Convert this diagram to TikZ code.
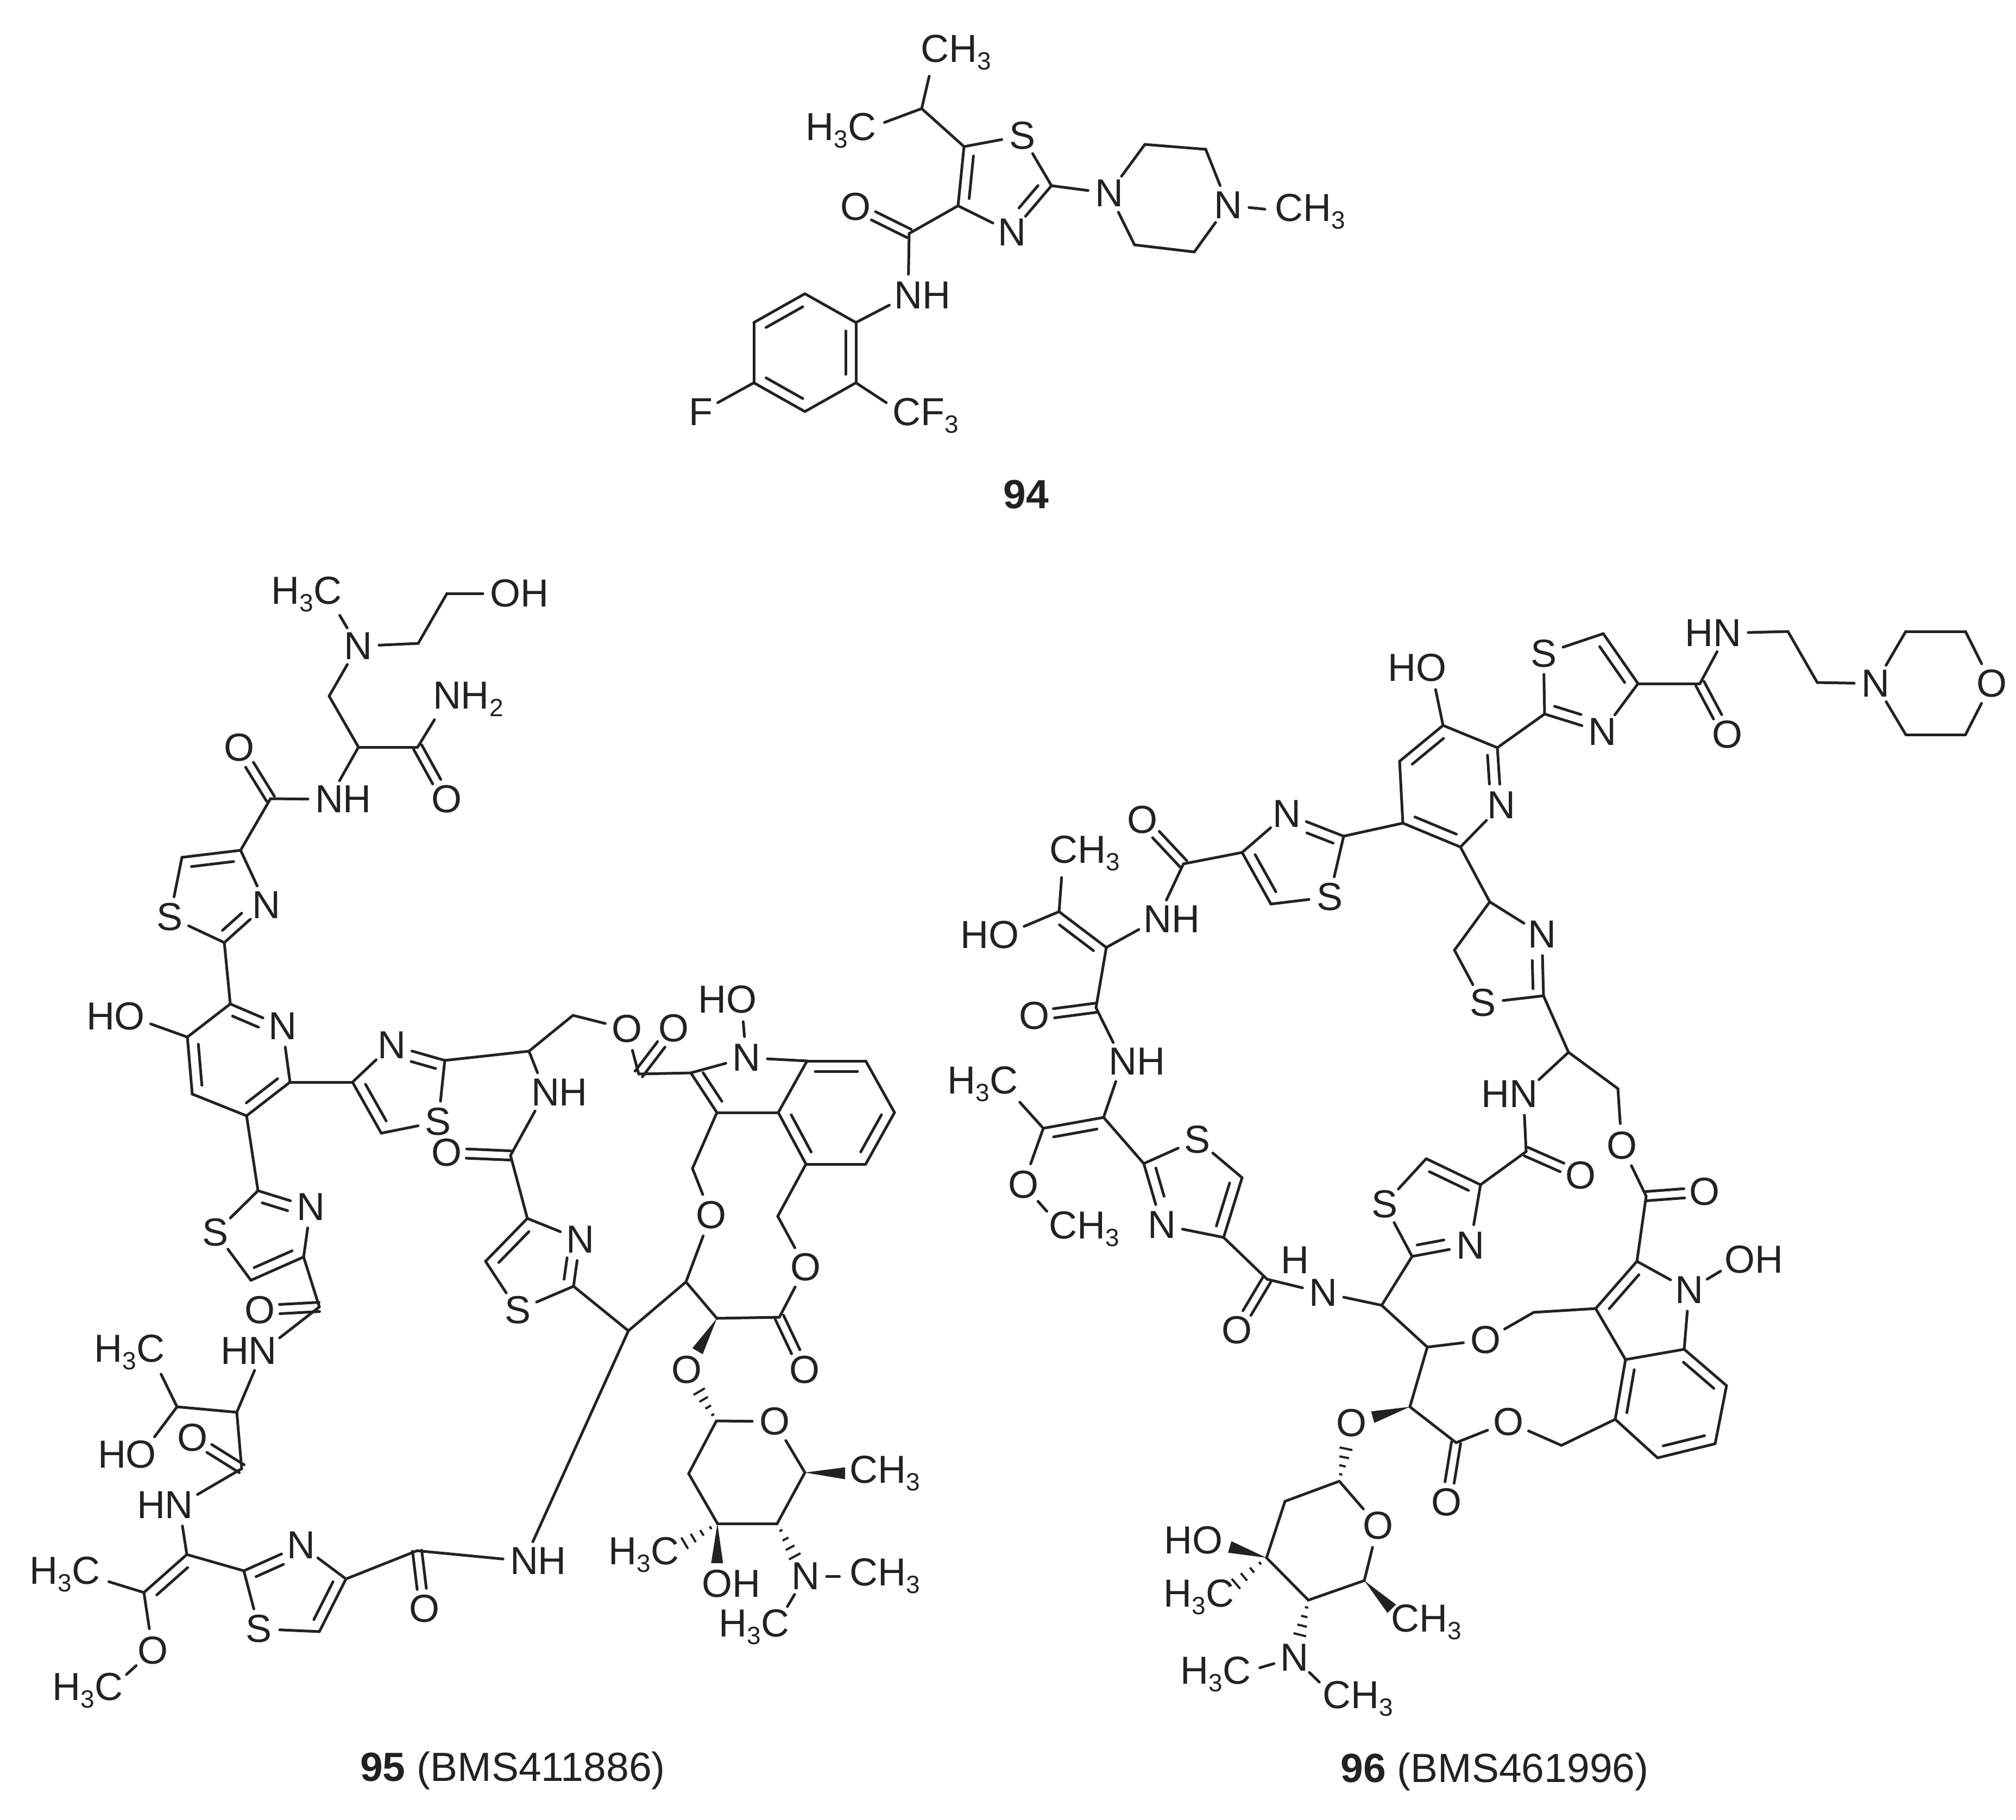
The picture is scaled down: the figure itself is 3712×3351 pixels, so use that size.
\documentclass[tikz,border=0pt]{standalone}
\usepackage{fontspec}
\setmainfont{Liberation Sans}
\usetikzlibrary{calc}
\definecolor{ink}{HTML}{222222}
\tikzset{
  bond/.style={line width=5pt,draw=ink,line cap=round,line join=round},
  atomlab/.style={circle,inner sep=2pt,text=ink,font=\fontsize{72}{80}\selectfont},
  caption/.style={inner sep=0pt,text=ink,font=\fontsize{75}{85}\selectfont},
  hashl/.style={line width=4pt,draw=ink}
}
\newcommand{\sbt}[1]{\raisebox{-14pt}{\fontsize{46}{50}\selectfont #1}}
\newcommand{\MeR}{C\rlap{H\sbt{3}}}
\newcommand{\MeL}{\llap{H\sbt{3}}C}
\newcommand{\At}[3]{\coordinate (#1) at (#2,#3);}
\newcommand{\Lb}[4]{\node[atomlab] (#1) at (#2,#3) {#4};}
\newcommand{\Bd}[1]{\foreach \p/\q in {#1} {\draw[bond] (\p) -- (\q);}}
\newcommand{\De}[4]{\draw[bond] (#1) -- (#2);\draw[bond] ($(#1)!#3!(#2)!19pt!-90:(#2)$) -- ($(#1)!#4!(#2)!19pt!-90:(#2)$);}
\newcommand{\Dd}[2]{\De{#1}{#2}{.14}{.86}}
\newcommand{\Ds}[2]{\draw[bond,shorten >=37pt] ($(#1)!8.5pt!90:(#2)$) -- ($(#2)!8.5pt!-90:(#1)$);\draw[bond,shorten >=37pt] ($(#1)!8.5pt!-90:(#2)$) -- ($(#2)!8.5pt!90:(#1)$);}
\newcommand{\Wd}[3]{\fill[ink] (#1) -- ($(#2)!#3!(#1)!11pt!90:(#1)$) -- ($(#2)!#3!(#1)!11pt!-90:(#1)$) -- cycle;}
\newcommand{\Hs}[3]{\foreach \hf/\hw in {.2/3,.45/6,.7/9,.95/12} {\draw[hashl] ($(#1)!\hf!($(#2)!#3!(#1)$)!\hw pt!90:(#2)$) -- ($(#1)!\hf!($(#2)!#3!(#1)$)!\hw pt!-90:(#2)$);}}
\begin{document}
\begin{tikzpicture}[x=1pt,y=-1pt]
\useasboundingbox (0,0) rectangle (3712,3351);
\fill[white] (0,0) rectangle (3712,3351);
% ---------- 94
\At{aI}{1697}{200}\Lb{aMa}{1721}{97}{\MeR}\Lb{aMb}{1587}{241}{\MeL}
\At{aCe}{1775}{270}\Lb{aS}{1882}{250}{S}\At{aCb}{1936}{342}\Lb{aN}{1863}{428}{N}\At{aCd}{1764}{379}
\At{aCo}{1674}{430}\Lb{aO}{1575}{381}{O}\Lb{aNH}{1672}{544}{N\rlap{H}}
\At{aPa}{1576}{594}\At{aPb}{1482}{541}\At{aPc}{1388}{594}\At{aPd}{1388}{705}\At{aPe}{1482}{758}\At{aPf}{1576}{705}
\Lb{aF}{1290}{759}{F}\Lb{aCF}{1669}{766}{C\rlap{F\sbt{3}}}
\Lb{aNa}{2042}{356}{N}\At{aQa}{2108}{266}\At{aQb}{2220}{275}\Lb{aNb}{2261}{378}{N}\At{aQc}{2199}{464}\At{aQd}{2089}{451}
\Lb{aMc}{2373}{390}{\MeR}
\Bd{aI/aMa,aI/aMb,aI/aCe,aCe/aS,aS/aCb,aN/aCd,aCd/aCo,aCo/aNH,aNH/aPa,aPa/aPb,aPc/aPd,aPe/aPf,aPd/aF,aPf/aCF,aCb/aNa,aNa/aQa,aQa/aQb,aQb/aNb,aNb/aQc,aQc/aQd,aQd/aNa,aNb/aMc}
\De{aCb}{aN}{.14}{.62}\Dd{aCd}{aCe}\Ds{aCo}{aO}
\Dd{aPc}{aPb}\Dd{aPa}{aPf}\Dd{aPe}{aPd}
\node[caption] (aT) at (1889,911) {\textbf{94}};
% ---------- 95
\Lb{bMa}{603}{1095}{\MeL}\Lb{bNa}{659}{1190}{N}\At{bA}{770}{1185}\At{bB}{823}{1093}\Lb{bOH}{930}{1093}{O\rlap{H}}
\At{bCa}{606}{1282}\At{bCb}{660}{1376}\At{bCc}{769}{1376}\Lb{bNt}{823}{1288}{N\rlap{H\sbt{2}}}\Lb{bOa}{822}{1472}{O}
\Lb{bNb}{606}{1472}{N\rlap{H}}\At{bCd}{498}{1471}\Lb{bOb}{440}{1377}{O}
\At{bTa}{443}{1566}\At{bTb}{335}{1579}\Lb{bSa}{313}{1689}{S}\At{bTc}{413}{1736}\Lb{bNc}{490}{1667}{N}
\At{bPa}{424}{1849}\Lb{bNd}{520}{1890}{N}\At{bPb}{534}{1993}\At{bPc}{454}{2055}\At{bPd}{354}{2015}\At{bPe}{345}{1910}
\Lb{bHO}{239}{1872}{\llap{H}O}
\At{bUa}{649}{1993}\Lb{bNe}{721}{1925}{N}\At{bUb}{819}{1953}\Lb{bSb}{807}{2066}{S}\At{bUc}{702}{2087}
\At{bCe}{974}{1936}\At{bCf}{1055}{1870}\Lb{bOc}{1154}{1895}{O}\Lb{bOd}{1240}{1894}{O}\At{bCg}{1176}{1978}
\At{bIb}{1272}{1976}\Lb{bNf}{1374}{1948}{N}\Lb{bHOb}{1365}{1841}{\llap{H}O}
\At{bIg}{1486}{1954}\At{bIf}{1594}{1954}\At{bIe}{1647}{2049}\At{bId}{1594}{2144}\At{bIc}{1484}{2144}\At{bIh}{1433}{2049}\At{bIa}{1320}{2049}
\At{bCh}{1275}{2152}\Lb{bOe}{1309}{2238}{O}\At{bCi}{1263}{2361}\At{bCj}{1432}{2240}\Lb{bOf}{1483}{2334}{O}
\At{bCk}{1435}{2426}\Lb{bOg}{1481}{2523}{O}\At{bCl}{1320}{2428}\Lb{bOh}{1264}{2523}{O}\At{bCm}{1157}{2451}
\At{bVa}{1056}{2369}\Lb{bNg}{1068}{2283}{N}\At{bVb}{971}{2244}\At{bVc}{894}{2323}\Lb{bSc}{953}{2413}{S}
\At{bCn}{940}{2128}\Lb{bOi}{822}{2123}{O}\Lb{bNh}{1004}{2012}{N\rlap{H}}
\At{bGa}{1319}{2617}\Lb{bOj}{1426}{2618}{O}\At{bGb}{1482}{2712}\At{bGc}{1431}{2806}\At{bGd}{1321}{2806}\At{bGe}{1268}{2714}
\Lb{bMb}{1590}{2714}{\MeR}\Lb{bNi}{1483}{2903}{N}\Lb{bMc}{1590}{2903}{\MeR}\Lb{bMd}{1427}{2997}{\MeL}
\Lb{bOk}{1320}{2917}{O\rlap{H}}\Lb{bMe}{1224}{2864}{\MeL}
\Lb{bNj}{965}{2875}{N\rlap{H}}\At{bCo}{768}{2856}\Lb{bOl}{781}{2963}{O}
\At{bWa}{637}{2908}\Lb{bNk}{554}{2846}{N}\At{bWb}{449}{2893}\Lb{bSd}{477}{3000}{S}\At{bWc}{588}{3005}
\At{bEa}{344}{2863}\At{bEb}{265}{2933}\Lb{bNl}{330}{2772}{\llap{H}N}\Lb{bMf}{158}{2900}{\MeL}
\Lb{bOm}{281}{3040}{O}\Lb{bMg}{200}{3114}{\MeL}
\At{bCp}{445}{2705}\Lb{bOn}{354}{2648}{O}\At{bCq}{436}{2601}\At{bCr}{326}{2591}
\Lb{bMh}{277}{2491}{\MeL}\Lb{bHOc}{260}{2679}{\llap{H}O}\Lb{bNm}{484}{2488}{\llap{H}N}
\At{bCs}{588}{2407}\Lb{bOo}{478}{2413}{O}
\At{bXa}{559}{2315}\At{bXb}{462}{2358}\Lb{bSe}{397}{2270}{S}\At{bXc}{475}{2193}\Lb{bNn}{572}{2223}{N}
\Bd{bMa/bNa,bNa/bA,bA/bB,bB/bOH,bNa/bCa,bCa/bCb,bCb/bCc,bCc/bNt,bCb/bNb,bNb/bCd,bCd/bTa,bTa/bNc,bTc/bSa,bSa/bTb,bTc/bPa,bNd/bPb,bPc/bPd,bPe/bPa,bPe/bHO,bPb/bUa,bUa/bNe,bUb/bSb,bSb/bUc,bUb/bCe,bCe/bCf,bCf/bOc,bOc/bCg,bCg/bIb,bIb/bNf,bNf/bHOb,bNf/bIg,bIh/bIa,bIe/bIf,bId/bIc,bIa/bCh,bCh/bOe,bOe/bCi,bCi/bCm,bCi/bCl,bCl/bCk,bCk/bOf,bOf/bCj,bCj/bIc,bCm/bVa,bCm/bNj,bVa/bSc,bSc/bVc,bVb/bNg,bCe/bNh,bNh/bCn,bCn/bVb,bGa/bOj,bOj/bGb,bGb/bGc,bGc/bGd,bGd/bGe,bGe/bGa,bNi/bMc,bNi/bMd,bNj/bCo,bCo/bWa,bWa/bNk,bWb/bSd,bSd/bWc,bEa/bWb,bEa/bNl,bEb/bMf,bEb/bOm,bOm/bMg,bNl/bCp,bCp/bCq,bCq/bCr,bCq/bNm,bCr/bMh,bCr/bHOc,bNm/bCs,bCs/bXa,bXa/bNn,bXc/bSe,bSe/bXb,bPc/bXc,bIh/bIg}
\Ds{bCc}{bOa}\Ds{bCd}{bOb}
\De{bNc}{bTc}{.42}{.88}\Dd{bTb}{bTa}
\De{bPa}{bNd}{.12}{.62}\Dd{bPb}{bPc}\Dd{bPd}{bPe}
\De{bNe}{bUb}{.42}{.88}\Dd{bUc}{bUa}
\Ds{bCg}{bOd}\Ds{bCn}{bOi}\Ds{bCk}{bOg}\Ds{bCo}{bOl}\Ds{bCp}{bOn}\Ds{bCs}{bOo}
\Dd{bIa}{bIb}\Dd{bIg}{bIf}\Dd{bIe}{bId}\Dd{bIc}{bIh}
\De{bNg}{bVa}{.42}{.88}\Dd{bVc}{bVb}
\Wd{bCl}{bOh}{40pt}\Hs{bGa}{bOh}{43pt}\Wd{bGb}{bMb}{34pt}\Wd{bGd}{bOk}{38pt}\Hs{bGc}{bNi}{38pt}\Hs{bGd}{bMe}{39pt}
\Dd{bWa}{bWc}\De{bWb}{bNk}{.14}{.62}\Dd{bEb}{bEa}
\De{bXc}{bNn}{.14}{.62}\Dd{bXa}{bXb}
\node[caption] (bT) at (944,3261) {\textbf{95} (BMS411886)};
% ---------- 96
\Lb{cHO}{2635}{1230}{\llap{H}O}\At{cPa}{2657}{1336}\At{cPb}{2757}{1377}\Lb{cNa}{2764}{1483}{N}\At{cPc}{2689}{1560}\At{cPd}{2583}{1516}\At{cPe}{2577}{1402}
\At{cTa}{2844}{1315}\Lb{cSa}{2842}{1204}{S}\At{cTb}{2952}{1167}\At{cTc}{3016}{1259}\Lb{cNb}{2950}{1348}{N}
\At{cCa}{3130}{1259}\Lb{cOa}{3180}{1353}{O}\Lb{cNc}{3180}{1166}{\llap{H}N}\At{cCb}{3292}{1163}\At{cCc}{3346}{1257}
\Lb{cNd}{3453}{1259}{N}\At{cRa}{3509}{1163}\At{cRb}{3619}{1163}\Lb{cOb}{3667}{1259}{O}\At{cRc}{3619}{1353}\At{cRd}{3509}{1353}
\At{cUa}{2743}{1661}\Lb{cNe}{2839}{1721}{N}\At{cUb}{2842}{1834}\Lb{cSb}{2730}{1847}{S}\At{cUc}{2678}{1750}
\At{cCd}{2888}{1938}\Lb{cNf}{2805}{2015}{\llap{H}N}\At{cCe}{2979}{2005}\Lb{cOc}{2986}{2110}{O}
\At{cCf}{3031}{2203}\Lb{cOd}{3138}{2195}{O}\At{cIb}{3014}{2323}\Lb{cNg}{3110}{2376}{N}\Lb{cOe}{3203}{2320}{O\rlap{H}}
\At{cIc}{2938}{2410}\At{cId}{2993}{2504}\At{cIe}{3101}{2485}\At{cIf}{3179}{2552}\At{cIg}{3158}{2659}\At{cIh}{3052}{2685}\At{cIi}{2974}{2614}
\At{cCg}{2824}{2417}\Lb{cOf}{2735}{2468}{O}\At{cCh}{2628}{2481}\At{cCi}{2544}{2404}
\Lb{cNh}{2436}{2381}{\llap{\smash{\raisebox{60pt}{H}}}N}\At{cCj}{2333}{2356}\Lb{cOg}{2277}{2450}{O}
\Lb{cOh}{2103}{1510}{O}\At{cCk}{2179}{1591}\At{cVa}{2287}{1570}\Lb{cNi}{2369}{1499}{N}\At{cVb}{2474}{1540}\Lb{cSc}{2448}{1652}{S}\At{cVc}{2340}{1665}
\Lb{cNj}{2131}{1693}{N\rlap{H}}\At{cEa}{2037}{1745}\At{cEb}{1950}{1679}\Lb{cMb}{1958}{1572}{\MeR}\Lb{cHOb}{1848}{1722}{\llap{H}O}
\At{cCl}{2018}{1856}\Lb{cOi}{1904}{1871}{O}\Lb{cNk}{2067}{1955}{N\rlap{H}}\At{cEc}{2032}{2058}\At{cEd}{1921}{2078}
\Lb{cMc}{1848}{1997}{\MeL}\Lb{cOj}{1884}{2182}{O}\Lb{cMd}{1957}{2264}{\MeR}
\At{cWa}{2106}{2143}\Lb{cSd}{2204}{2099}{S}\At{cWb}{2287}{2169}\At{cWc}{2253}{2279}\Lb{cNl}{2139}{2256}{N}
\At{cXa}{2626}{2134}\Lb{cSe}{2549}{2218}{S}\At{cXb}{2600}{2314}\Lb{cNm}{2707}{2294}{N}\At{cXc}{2726}{2182}
\At{cCm}{2810}{2121}\Lb{cOk}{2910}{2165}{O}
\At{cCn}{2596}{2591}\Lb{cOl}{2488}{2621}{O}\At{cCo}{2681}{2657}\Lb{cOm}{2777}{2619}{O}\At{cCp}{2875}{2662}\Lb{cOn}{2663}{2767}{O}
\At{cGa}{2466}{2728}\Lb{cOo}{2537}{2810}{O}\At{cGb}{2512}{2911}\At{cGc}{2409}{2947}\At{cGd}{2332}{2869}\At{cGe}{2366}{2765}
\Lb{cOp}{2223}{2837}{\llap{H}O}\Lb{cMe}{2246}{2942}{\MeL}\Lb{cMf}{2587}{2988}{\MeR}\Lb{cNn}{2383}{3053}{N}\Lb{cMg}{2277}{3084}{\MeL}\Lb{cMh}{2461}{3129}{\MeR}
\Bd{cHO/cPa,cPb/cTa,cTa/cSa,cSa/cTb,cTc/cCa,cCa/cNc,cNc/cCb,cCb/cCc,cCc/cNd,cNd/cRa,cRa/cRb,cRb/cOb,cOb/cRc,cRc/cRd,cRd/cNd,cTc/cNb,cPa/cPb,cNa/cPc,cPd/cPe,cPc/cUa,cUa/cNe,cUb/cSb,cSb/cUc,cUc/cUa,cUb/cCd,cCd/cNf,cCd/cCe,cCe/cOc,cOc/cCf,cCf/cIb,cIb/cNg,cNg/cOe,cNg/cIe,cIc/cId,cId/cIe,cIf/cIg,cIh/cIi,cIc/cCg,cCg/cOf,cOf/cCh,cCh/cCi,cCh/cCn,cCn/cCo,cCo/cOm,cOm/cCp,cCp/cIi,cCi/cNh,cNh/cCj,cCi/cXb,cXb/cSe,cSe/cXa,cXc/cNm,cXc/cCm,cCm/cNf,cCj/cWc,cWc/cNl,cWa/cSd,cSd/cWb,cWa/cEc,cEc/cNk,cNk/cCl,cCl/cEa,cEa/cNj,cNj/cCk,cCk/cVa,cVa/cNi,cVb/cSc,cSc/cVc,cVb/cPd,cEb/cMb,cEb/cHOb,cEd/cMc,cEd/cOj,cOj/cMd,cGa/cOo,cOo/cGb,cGb/cGc,cGc/cGd,cGd/cGe,cGe/cGa,cNn/cMg,cNn/cMh}
\De{cPb}{cNa}{.12}{.62}\Dd{cPc}{cPd}\Dd{cPe}{cPa}
\Dd{cTb}{cTc}\De{cNb}{cTa}{.42}{.88}
\De{cNe}{cUb}{.42}{.88}
\Ds{cCa}{cOa}\Ds{cCf}{cOd}\Ds{cCj}{cOg}\Ds{cCk}{cOh}\Ds{cCl}{cOi}\Ds{cCm}{cOk}\Ds{cCo}{cOn}
\Dd{cIc}{cIb}\Dd{cIe}{cIf}\Dd{cIg}{cIh}\Dd{cIi}{cId}
\De{cNi}{cVb}{.42}{.88}
\Dd{cVc}{cVa}\Dd{cEb}{cEa}\Dd{cEd}{cEc}
\Dd{cWb}{cWc}\De{cNl}{cWa}{.42}{.88}
\Dd{cXa}{cXc}\De{cNm}{cXb}{.42}{.88}
\Wd{cCn}{cOl}{41pt}\Hs{cGa}{cOl}{45pt}\Wd{cGd}{cOp}{43pt}\Hs{cGd}{cMe}{35pt}\Wd{cGb}{cMf}{35pt}\Hs{cGc}{cNn}{40pt}
\node[caption] (cT) at (2752,3263) {\textbf{96} (BMS461996)};
\end{tikzpicture}
\end{document}
